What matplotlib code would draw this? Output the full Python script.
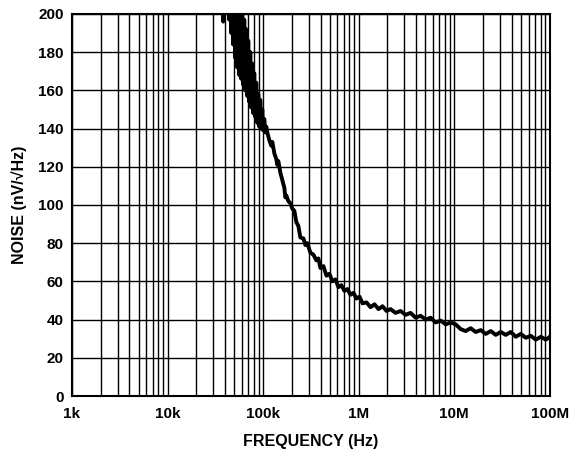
import numpy as np
import matplotlib
matplotlib.use("Agg")
from matplotlib import pyplot as plt
from matplotlib.ticker import FixedLocator, LogLocator, NullFormatter

plt.rcParams['font.family'] = ['Liberation Sans', 'DejaVu Sans']

# frequency in kHz, noise in nV/rtHz
freq_khz = [
    37.35, 38.26, 39.20, 40.15, 41.14, 42.14, 43.17, 44.23, 45.31, 46.42,
    47.55, 48.71, 49.90, 51.12, 52.37, 53.65, 54.96, 56.30, 57.68, 59.09,
    60.53, 62.01, 63.52, 65.07, 66.66, 68.29, 69.96, 71.67, 73.42, 75.21,
    77.05, 78.93, 80.86, 82.83, 84.86, 86.93, 89.05, 91.22, 93.45, 95.73,
    98.07, 100.5, 102.9, 105.4, 108.0,
    110.7, 116.1, 121.9, 124.9, 131.1, 137.5, 140.9, 144.3, 151.5, 159,
    162.8, 166.8, 170.9, 175, 183.7, 192.8, 202.3, 212.3, 222.8, 233.9,
    245.4, 263.9, 276.9, 290.6, 312.5, 335.9, 361.2, 379, 397.8, 427.6,
    459.8, 494.2, 531.4, 571.3, 614.3, 660.3, 710, 763.2, 820.4, 882.1,
    948.3, 1020, 1096, 1207, 1330, 1464, 1613, 1776, 1956, 2154,
    2431, 2743, 3095, 3492, 3939, 4445, 5015, 5658, 6383, 7202,
    8126, 9169, 10340, 11670, 13170, 14860, 16760, 18910, 21340, 24080,
    27160, 30650, 34580, 39010, 44020, 49660, 56030, 63220, 71330, 80480,
    90800, 100000,
]
noise = [
    230, 196, 235, 208, 240, 203, 235, 197, 230, 190,
    225, 184, 220, 177, 215, 172, 210, 168, 207, 166,
    203, 163, 197, 160, 192, 157, 186, 154, 180, 151,
    174, 148, 169, 146, 164, 143, 158, 141, 155, 140,
    150, 139, 145, 138, 141,
    138, 134, 131, 133, 127, 124, 121, 123, 117, 113,
    111, 109, 104, 105, 102, 101, 98, 97, 91, 89,
    83, 82.5, 79, 80, 75, 74, 71, 72, 67, 68,
    63, 64, 60, 61, 57, 58, 55, 56, 53, 54,
    51, 52, 48.5, 49, 46.5, 48, 45.5, 47, 44.5, 45.5,
    43.5, 44.5, 42.5, 43.5, 41, 42, 40, 41, 38.5, 39.5,
    37.5, 38.5, 37.5, 35, 34, 35.5, 33.5, 34.5, 32.5, 34,
    32, 33.5, 32, 33.5, 31, 32.5, 30.5, 31.5, 29.5, 31,
    29.5, 31,
]

x_ticks = [1e3, 1e4, 1e5, 1e6, 1e7, 1e8]
x_labels = ['1k', '10k', '100k', '1M', '10M', '100M']
y_ticks = list(range(0, 201, 20))

fig = plt.figure(figsize=(5.8, 4.5), dpi=100)
ax = fig.add_axes([0.124, 0.12, 0.824, 0.849])

f = np.array(freq_khz) * 1e3
ax.plot(f, noise, color='black', lw=2.8, solid_joinstyle='round')

ax.set_xscale('log')
ax.set_xlim(1e3, 1e8)
ax.set_ylim(0, 200)
ax.xaxis.set_major_locator(FixedLocator(x_ticks))
ax.xaxis.set_minor_locator(LogLocator(base=10, subs=range(2, 10)))
ax.xaxis.set_minor_formatter(NullFormatter())
ax.set_xticklabels(x_labels)
ax.set_yticks(y_ticks)

ax.grid(True, which='both', axis='x', color='black', lw=1.0)
ax.grid(True, which='major', axis='y', color='black', lw=1.0)
ax.tick_params(which='both', length=0, labelsize=11)
ax.tick_params(axis='x', pad=8)
ax.tick_params(axis='y', pad=6)
for lab in ax.get_xticklabels() + ax.get_yticklabels():
    lab.set_fontweight('bold')
for s in ax.spines.values():
    s.set_linewidth(1.5)

ax.set_xlabel('FREQUENCY (Hz)', fontsize=11.5, fontweight='bold', labelpad=9)
ax.set_ylabel('NOISE (nV/\u221AHz)', fontsize=11.5, fontweight='bold', labelpad=8)

fig.savefig('out.png', dpi=100)
